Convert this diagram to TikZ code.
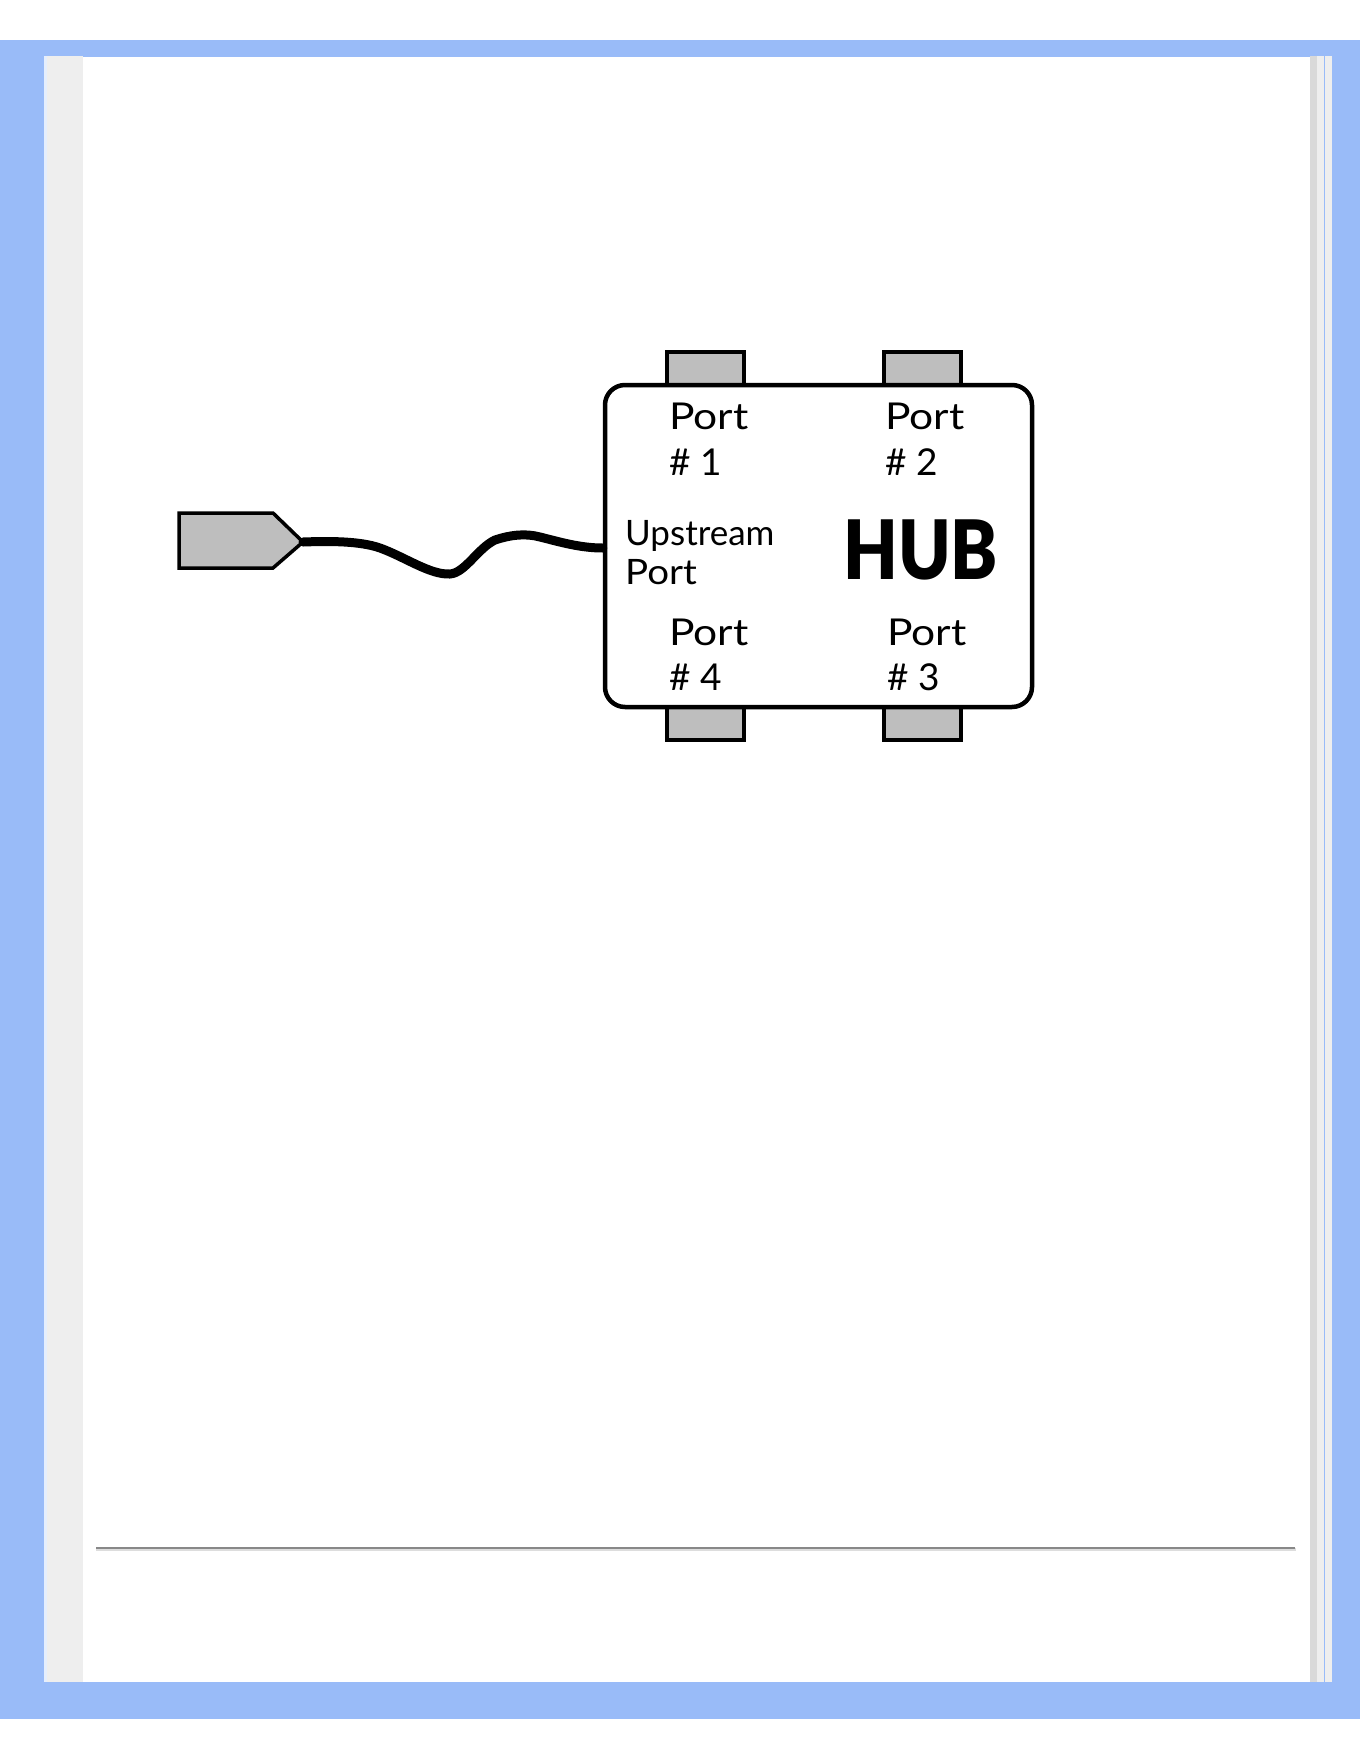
\documentclass[tikz,border=0pt]{standalone}
\usepackage{fontspec}
\setmainfont{Lato}
\newfontfamily\hubfont{Lato Black}
\definecolor{frameblue}{HTML}{99BBF8}
\definecolor{stripgray}{HTML}{EEEEEE}
\definecolor{darkstrip}{HTML}{D9D9D9}
\definecolor{portfill}{HTML}{BEBEBE}
\definecolor{rulegray}{HTML}{888888}
\definecolor{rulelight}{HTML}{DDDDDD}
\newcommand{\wideword}[1]{\scalebox{1.15}[1]{#1}}
\tikzset{
  portbox/.style={draw=black, fill=portfill, line width=4.5pt, minimum width=77pt, minimum height=33pt, inner sep=0pt},
  hubbox/.style={draw=black, fill=white, line width=4.5pt, rounded corners=20pt, minimum width=427pt, minimum height=322pt, inner sep=0pt},
  lbl/.style={anchor=base west, inner sep=0pt, font=\fontsize{37}{46}\selectfont},
  uplbl/.style={anchor=base west, inner sep=0pt, font=\fontsize{35}{40}\selectfont},
  cable/.style={line width=9pt, line cap=round, line join=round}
}
\begin{document}
\begin{tikzpicture}[x=1pt,y=-1pt]
\useasboundingbox (0,0) rectangle (1361,1761);
\fill[white] (0,0) rectangle (1361,1761);
% page frame
\fill[frameblue] (0,40) rectangle (1360,1719);
\fill[white] (83,57) rectangle (1310,1682);
\fill[stripgray] (47,56) rectangle (83,1682);
\fill[white!75!frameblue] (44,56) rectangle (47,1682);
\fill[darkstrip] (1310,56) rectangle (1317,1682);
\fill[stripgray] (1317,56) rectangle (1324,1682);
\fill[stripgray] (1325,56) rectangle (1332,1682);
% horizontal rule
\fill[rulelight] (96,1548) rectangle (1296,1551);
\fill[rulegray] (96,1547) rectangle (1295,1549);
% ports
\node[portbox] (pt1) at (705.5,368.5) {};
\node[portbox] (pt2) at (922.5,368.5) {};
\node[portbox] (pt4) at (705.5,723.5) {};
\node[portbox] (pt3) at (922.5,723.5) {};
% hub
\node[hubbox] (hub) at (818.5,546) {};
% labels
\node[lbl] (l1a) at (669,429) {\wideword{Port}};
\node[lbl] (l1b) at (669,475) {\# 1};
\node[lbl] (l2a) at (885,429) {\wideword{Port}};
\node[lbl] (l2b) at (885,475) {\# 2};
\node[lbl] (l4a) at (669,645) {\wideword{Port}};
\node[lbl] (l4b) at (669,690) {\# 4};
\node[lbl] (l3a) at (887,645) {\wideword{Port}};
\node[lbl] (l3b) at (887,690) {\# 3};
\node[uplbl] (upa) at (625,545) {Upstream};
\node[uplbl] (upb) at (625,584) {\scalebox{1.1}[1]{Port}};
\node[anchor=base west, inner sep=0pt, font=\hubfont\fontsize{82}{82}\selectfont] (hubtxt) at (843,579) {\scalebox{0.86}[1]{HUB}};
% plug
\draw[fill=portfill, line width=3.5pt, line join=miter] (179,513) -- (273,513) -- (303,542) -- (273,568) -- (179,568) -- cycle;
\coordinate (tip) at (303,542);
% cable
\draw[cable] (tip) .. controls (330,541) and (360,541) .. (380,548)
  .. controls (405,557) and (430,575) .. (450,574)
  .. controls (465,573) and (478,548) .. (495,540)
  .. controls (510,535) and (525,533) .. (540,537)
  .. controls (560,542) and (580,548) .. (hub.west |- 0,548);
\end{tikzpicture}
\end{document}
